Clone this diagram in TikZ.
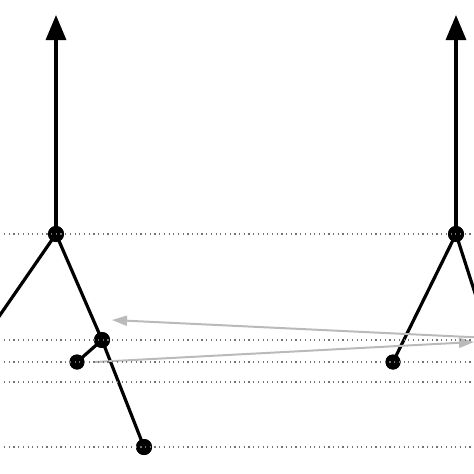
\documentclass[tikz,border=0pt]{standalone}
\usetikzlibrary{arrows.meta}
\begin{document}
\begin{tikzpicture}[x=1pt,y=-1pt,
  dot/.style={circle,fill=black,inner sep=0pt,minimum size=16pt},
  smalldot/.style={circle,fill=black,inner sep=0pt,minimum size=15pt},
  branch/.style={line width=3.2pt,black},
  guide/.style={black!55,line width=1.2pt,dash pattern=on 1.2pt off 3.5pt},
  move/.style={line width=2pt,color=black!27,-{Triangle[length=15pt,width=10pt]}},
  up/.style={line width=3.2pt,-{Triangle[length=25pt,width=20pt]}}]
\useasboundingbox (0,0) rectangle (474,474);
\clip (0,0) rectangle (474,474);
% guide line ends
\foreach \y in {234,340,362,382,447}{
  \coordinate (gl\y) at (4,\y);
  \coordinate (gr\y) at (471,\y);
}
% nodes
\node[dot] (rootL) at (56,234) {};
\node[dot] (B) at (102,340) {};
\node[smalldot] (C) at (77,362) {};
\node[dot] (leafL) at (144,447) {};
\node[dot] (rootR) at (456,234) {};
\node[smalldot] (D) at (393,362) {};
\coordinate (tipL) at (56,15);
\coordinate (tipR) at (456,15);
\coordinate (offL) at (-10,329.5);
\coordinate (offR) at (480,308.7);
\coordinate (a1s) at (490,338);
\coordinate (a1e) at (112,320);
\coordinate (a2s) at (95,362);
\coordinate (a2e) at (474,342);
% branches
\draw[branch] (rootL.center) -- (offL);
\draw[branch] (rootL.center) -- (B.center) -- (leafL.center);
\draw[branch] (B.center) -- (C.center);
\draw[branch] (rootR.center) -- (D.center);
\draw[branch] (rootR.center) -- (offR);
\draw[up] (rootL.center) -- (tipL);
\draw[up] (rootR.center) -- (tipR);
% nodes on top of branches
\foreach \n in {rootL,B,leafL,rootR}{
  \fill (\n.center) circle (8pt);
}
\foreach \n in {C,D}{
  \fill (\n.center) circle (7.5pt);
}
% grey moves
\draw[move] (a1s) -- (a1e);
\draw[move] (a2s) -- (a2e);
% guides
\foreach \y in {234,340,362,382,447}{
  \draw[guide] (gl\y) -- (gr\y);
}
\end{tikzpicture}
\end{document}
